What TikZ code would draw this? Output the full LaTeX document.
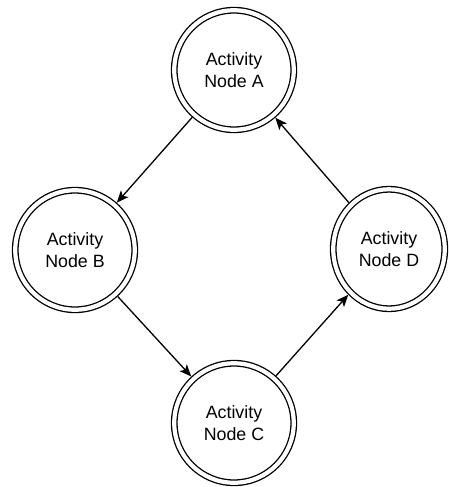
\documentclass[tikz,border=0pt]{standalone}
\usepackage{fontspec}
\setmainfont{Liberation Sans}
\usetikzlibrary{arrows.meta,shapes.geometric}
\begin{document}
\begin{tikzpicture}[x=1pt,y=-1pt,
  activity/.style={ellipse, draw, line width=1.3pt, double, double distance=4.2pt,
    minimum width=119.5pt, minimum height=119.5pt, inner sep=0pt, outer sep=3.4pt,
    align=center, font=\fontsize{17.8}{21.5}\selectfont},
  flow/.style={-{Stealth[length=12pt,width=10pt,inset=3pt]}, line width=1.3pt}]
  \useasboundingbox (0,0) rectangle (449,487);

  % the four activities of the cycle
  \node[activity] (A) at (234,70)  {Activity\\Node A};
  \node[activity] (B) at (75,250)  {Activity\\Node B};
  \node[activity] (C) at (234,423) {Activity\\Node C};
  \node[activity, minimum width=111.5pt] (D) at (389,249) {Activity\\Node D};

  % transitions A -> B -> C -> D -> A
  \draw[flow] (A) -- (B);
  \draw[flow] (B) -- (C);
  \draw[flow] (C) -- (D);
  \draw[flow] (D) -- (A);
\end{tikzpicture}
\end{document}
